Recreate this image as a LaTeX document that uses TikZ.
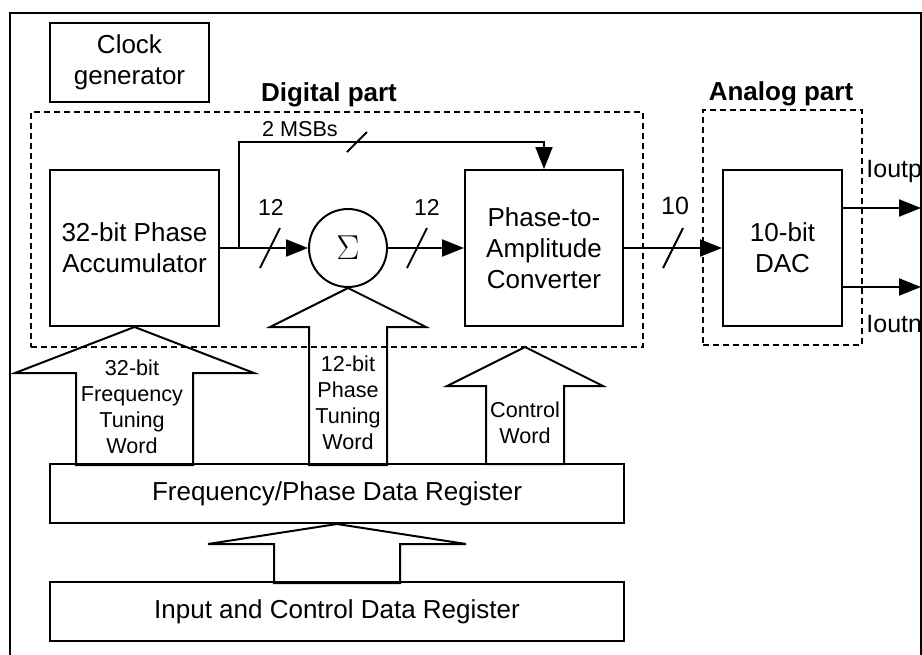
\documentclass[tikz,border=0pt]{standalone}
\usepackage{fontspec}
\setmainfont{Liberation Sans}
\usetikzlibrary{positioning,arrows.meta}

\tikzset{
  every block/.style={draw, line width=1pt, inner sep=0pt, align=center,
    font=\fontsize{13}{15.5}\selectfont},
  part box/.style={draw, line width=0.9pt, dash pattern=on 3pt off 2pt, inner sep=0pt},
  part title/.style={font=\fontsize{13}{15.5}\selectfont\bfseries},
  small text/.style={align=center, font=\fontsize{10.8}{13}\selectfont},
  bus/.style={line width=1pt, line join=miter},
  wire/.style={line width=1pt}
}

% wide block arrow: tip, head length, half head, half shaft, shaft length
\newcommand{\busarrow}[5]{%
  \draw[bus] (#1) -- ++(#3,#2) -- ++(#4-#3,0) -- ++(0,#5) -- ++(-2*#4,0)
    -- ++(0,-#5) -- ++(#4-#3,0) -- cycle;}

\begin{document}
\begin{tikzpicture}[x=0.5pt, y=-0.5pt, >={Triangle[length=11pt,width=8.5pt]}]
\useasboundingbox (0,0) rectangle (922,654);

% outer frame
\draw[line width=1pt] (10,660) -- (10,13) -- (921,13) -- (921,660);

% dashed parts
\node [part box, minimum width=306pt, minimum height=117.5pt] (digital) at (337,229.5) {};
\node [part box, minimum width=79.5pt, minimum height=117.5pt] (analog) at (782.5,227.5) {};
\node [part title] at (329,95) {Digital part};
\node [part title] at (781,94) {Analog part};

% blocks
\node [every block, minimum width=79.5pt, minimum height=39.5pt] (clock) at (129.5,62.5) {Clock\\generator};
\node [every block, minimum width=84.5pt, minimum height=78pt] (acc) at (134.5,248) {32-bit Phase\\Accumulator};
\node [every block, circle, minimum size=39pt] (sum) at (348,248) {\fontsize{17}{17}\selectfont$\Sigma$};
\node [every block, minimum width=79pt, minimum height=78pt] (pac) at (544,248) {Phase-to-\\Amplitude\\Converter};
\node [every block, minimum width=59.5pt, minimum height=78pt] (dac) at (782.5,248) {10-bit\\DAC};
\node [every block, minimum width=287pt, minimum height=29.5pt] (fpdr) at (337,493.5) {Frequency/Phase Data Register};
\node [every block, minimum width=287pt, minimum height=29.5pt] (icdr) at (337,611.5) {Input and Control Data Register};

% signal path
\coordinate (tap) at (239,248);
\coordinate (msb) at (239,142);
\draw[wire, ->] (acc.east) -- (sum.west);
\draw[wire, ->] (tap) -- (msb) -| (pac.north);
\draw[wire, ->] (sum.east) -- (pac.west);
\draw[wire, ->] (pac.east) -- (dac.west);

\coordinate (outp) at (921,208);
\coordinate (outn) at (921,287);
\draw[wire, ->] (dac.east |- outp) -- (outp);
\draw[wire, ->] (dac.east |- outn) -- (outn);

% bus width marks
\foreach \sx/\sy/\sh in {270/248/20, 417/248/20, 673/248/20, 357/142/10}
  \draw[wire] (\sx-10,\sy+\sh) -- (\sx+10,\sy-\sh);

\node [small text, font=\fontsize{11.5}{13}\selectfont] (w-acc) at (271,207) {12};
\node [small text, font=\fontsize{11.5}{13}\selectfont] (w-sum) at (427,207) {12};
\node [small text, font=\fontsize{12.5}{14}\selectfont] (w-pac) at (675,206) {10};
\node [small text] (w-msb) at (300,129) {2 MSBs};

\begin{scope}
  \clip (10,13) rectangle (921,654);
  \node [small text, font=\fontsize{12.5}{14}\selectfont, anchor=west, inner sep=0pt] (ioutp) at (866,171) {Ioutp};
  \node [small text, font=\fontsize{12.5}{14}\selectfont, anchor=west, inner sep=0pt] (ioutn) at (866,324) {Ioutn};
\end{scope}

% tuning words
\coordinate (cw-tip) at (525,347);
\busarrow{acc.south}{46}{119.5}{58.5}{92}
\busarrow{sum.south}{39}{78}{39}{138}
\busarrow{cw-tip}{39}{78}{39}{78}
\busarrow{fpdr.south}{20}{129}{63}{39}

\node [small text] (ftw) at (132,407) {32-bit\\Frequency\\Tuning\\Word};
\node [small text] (ptw) at (348,403) {12-bit\\Phase\\Tuning\\Word};
\node [small text] (cw) at (525,423) {Control\\Word};
\end{tikzpicture}
\end{document}
